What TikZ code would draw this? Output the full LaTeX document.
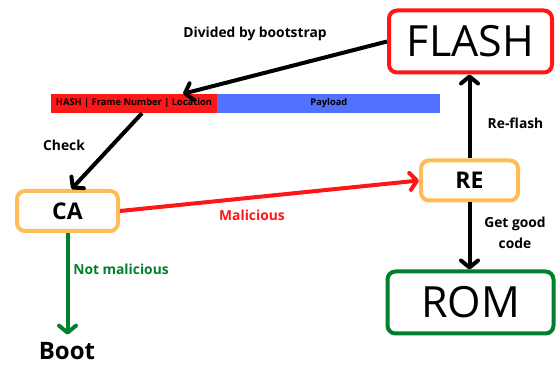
\documentclass[tikz,border=0pt]{standalone}
\usepackage{fontspec}
\setmainfont{Open Sans}
\usepackage{xcolor}
\usetikzlibrary{arrows.meta,positioning}
\definecolor{flashred}{HTML}{FF1616}
\definecolor{payblue}{HTML}{5271FF}
\definecolor{stageorange}{HTML}{FFBD59}
\definecolor{romgreen}{HTML}{00802F}

\begin{document}
\begin{tikzpicture}[x=1pt, y=-1pt,
  membox/.style={draw, line width=4pt, rounded corners=8pt, minimum width=163pt, minimum height=62pt, inner sep=0pt, font=\fontsize{43}{43}\selectfont},
  stagebox/.style={draw=stageorange, line width=4pt, rounded corners=8pt, minimum height=40pt, inner sep=0pt, font=\fontsize{23}{23}\selectfont\bfseries},
  field/.style={minimum height=19pt, inner sep=0pt, font=\fontsize{9.3}{9.3}\selectfont\bfseries},
  lbl/.style={font=\fontsize{13.8}{21}\selectfont\bfseries, align=center},
  arr/.style={line width=4pt, -{Straight Barb[length=7pt, width=17pt, round]}}
]
  \useasboundingbox (0,0) rectangle (558,366);

  % storage and stages
  \node[membox, draw=flashred] (flash) at (470.5,41.5) {FLASH};
  \node[membox, draw=romgreen, minimum width=166pt] (rom) at (470.5,302.5) {ROM};
  \node[stagebox, minimum width=97pt] (re) at (469.5,180.5) {RE};
  \node[stagebox, minimum width=101pt] (ca) at (67.5,211) {CA};
  \node[inner sep=0pt, font=\fontsize{24}{24}\selectfont\bfseries] (boot) at (67,351.5) {Boot};

  % frame layout
  \node[field, fill=flashred, minimum width=166pt] (hashfield) at (134,103.5) {HASH | Frame Number | Location};
  \node[field, fill=payblue, minimum width=223pt, right=0pt of hashfield] (payload) {Payload};

  \draw[arr] (flash.west) -- ([xshift=49pt]hashfield.north);
  \draw[arr] ([xshift=8pt]hashfield.south) -- ([xshift=4pt]ca.north);
  \draw[arr, flashred] (ca.east) -- (re.west);
  \draw[arr] (re.north) -- (re.north |- flash.south);
  \draw[arr] (re.south) -- (re.south |- rom.north);
  \draw[arr, romgreen, shorten >=8pt] (ca.south) -- (ca.south |- boot.north);

  \node[lbl] (divlbl) at (255,34) {Divided by bootstrap};
  \node[lbl] (checklbl) at (64,145) {Check};
  \node[lbl, text=flashred] (mallbl) at (252,215) {Malicious};
  \node[lbl, text=romgreen] (notmallbl) at (121,269) {Not malicious};
  \node[lbl] (reflashlbl) at (515.5,123) {Re-flash};
  \node[lbl] (goodlbl) at (515,233) {Get good\\code};
\end{tikzpicture}
\end{document}
